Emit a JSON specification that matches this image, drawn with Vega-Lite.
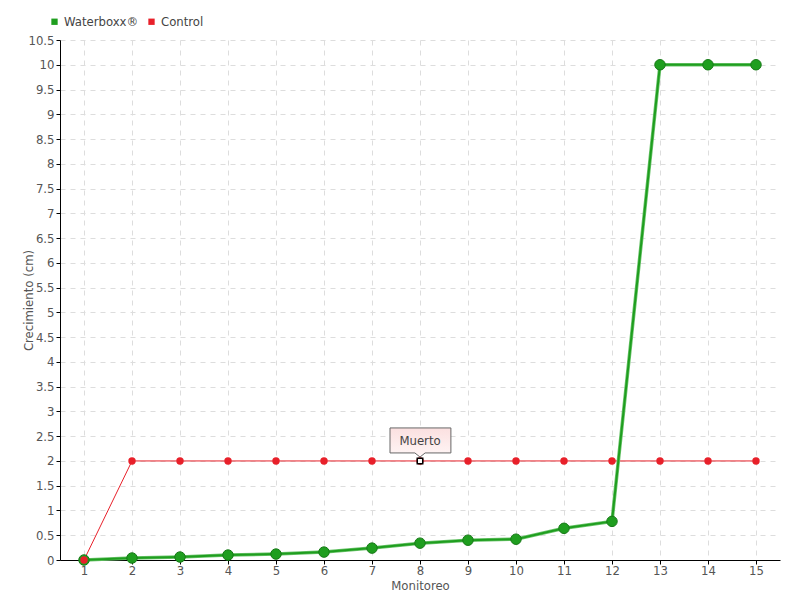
{
  "$schema": "https://vega.github.io/schema/vega-lite/v6.json",
  "width": 720,
  "height": 520,
  "autosize": {"type": "none"},
  "padding": {"left": 60, "top": 40, "right": 20, "bottom": 40},
  "background": "white",
  "config": {
    "font": "DejaVu Sans Condensed",
    "view": {"stroke": null},
    "axis": {
      "labelFont": "DejaVu Sans Condensed",
      "titleFont": "DejaVu Sans Condensed",
      "labelFontSize": 13,
      "titleFontSize": 13,
      "labelColor": "#555555",
      "titleColor": "#555555",
      "titleFontWeight": "normal",
      "domainColor": "#000000",
      "domainWidth": 1,
      "tickColor": "#000000",
      "tickSize": 4,
      "gridColor": "#dddddd",
      "gridDash": [5, 5],
      "gridWidth": 1
    },
    "legend": {
      "orient": "none",
      "legendX": -12,
      "legendY": -25,
      "direction": "horizontal",
      "symbolType": "square",
      "symbolSize": 40,
      "symbolStrokeWidth": 0,
      "labelFont": "DejaVu Sans Condensed",
      "labelFontSize": 13,
      "labelColor": "#444444",
      "columnPadding": 6,
      "labelOffset": 3,
      "title": null
    }
  },
  "data": {
    "values": [
      {"monitoreo": 1, "serie": "Waterboxx®", "crecimiento": 0},
      {"monitoreo": 2, "serie": "Waterboxx®", "crecimiento": 0.04},
      {"monitoreo": 3, "serie": "Waterboxx®", "crecimiento": 0.06},
      {"monitoreo": 4, "serie": "Waterboxx®", "crecimiento": 0.1},
      {"monitoreo": 5, "serie": "Waterboxx®", "crecimiento": 0.12},
      {"monitoreo": 6, "serie": "Waterboxx®", "crecimiento": 0.16},
      {"monitoreo": 7, "serie": "Waterboxx®", "crecimiento": 0.24},
      {"monitoreo": 8, "serie": "Waterboxx®", "crecimiento": 0.34},
      {"monitoreo": 9, "serie": "Waterboxx®", "crecimiento": 0.4},
      {"monitoreo": 10, "serie": "Waterboxx®", "crecimiento": 0.42},
      {"monitoreo": 11, "serie": "Waterboxx®", "crecimiento": 0.64},
      {"monitoreo": 12, "serie": "Waterboxx®", "crecimiento": 0.78},
      {"monitoreo": 13, "serie": "Waterboxx®", "crecimiento": 10},
      {"monitoreo": 14, "serie": "Waterboxx®", "crecimiento": 10},
      {"monitoreo": 15, "serie": "Waterboxx®", "crecimiento": 10},
      {"monitoreo": 1, "serie": "Control", "crecimiento": 0},
      {"monitoreo": 2, "serie": "Control", "crecimiento": 2},
      {"monitoreo": 3, "serie": "Control", "crecimiento": 2},
      {"monitoreo": 4, "serie": "Control", "crecimiento": 2},
      {"monitoreo": 5, "serie": "Control", "crecimiento": 2},
      {"monitoreo": 6, "serie": "Control", "crecimiento": 2},
      {"monitoreo": 7, "serie": "Control", "crecimiento": 2},
      {"monitoreo": 8, "serie": "Control", "crecimiento": 2, "nota": "Muerto"},
      {"monitoreo": 9, "serie": "Control", "crecimiento": 2},
      {"monitoreo": 10, "serie": "Control", "crecimiento": 2},
      {"monitoreo": 11, "serie": "Control", "crecimiento": 2},
      {"monitoreo": 12, "serie": "Control", "crecimiento": 2},
      {"monitoreo": 13, "serie": "Control", "crecimiento": 2},
      {"monitoreo": 14, "serie": "Control", "crecimiento": 2},
      {"monitoreo": 15, "serie": "Control", "crecimiento": 2}
    ]
  },
  "encoding": {
    "x": {
      "field": "monitoreo",
      "type": "ordinal",
      "scale": {"type": "point", "padding": 0.5},
      "axis": {"title": "Monitoreo", "labelAngle": 0, "labelPadding": 0, "titlePadding": 2, "grid": true}
    },
    "y": {
      "field": "crecimiento",
      "type": "quantitative",
      "scale": {"domain": [0, 10.5], "nice": false},
      "axis": {
        "title": "Crecimiento (cm)",
        "values": [0, 0.5, 1, 1.5, 2, 2.5, 3, 3.5, 4, 4.5, 5, 5.5, 6, 6.5, 7, 7.5, 8, 8.5, 9, 9.5, 10, 10.5],
        "format": "~g",
        "labelPadding": 2,
        "titlePadding": -8,
        "grid": true
      }
    }
  },
  "layer": [
    {
      "transform": [{"filter": "datum.serie === 'Control'"}],
      "mark": {"type": "line", "strokeWidth": 1},
      "encoding": {
        "color": {
          "field": "serie",
          "type": "nominal",
          "scale": {"domain": ["Waterboxx®", "Control"], "range": ["#1f9e1f", "#e8202a"]}
        }
      }
    },
    {
      "transform": [{"filter": "datum.serie === 'Waterboxx®'"}],
      "mark": {"type": "line", "strokeWidth": 3.5, "color": "#6cc46c"},
      "encoding": {}
    },
    {
      "transform": [{"filter": "datum.serie === 'Waterboxx®'"}],
      "mark": {"type": "line", "strokeWidth": 2},
      "encoding": {
        "color": {"field": "serie", "type": "nominal"}
      }
    },
    {
      "transform": [{"filter": "datum.serie === 'Waterboxx®'"}],
      "mark": {"type": "point", "filled": true, "size": 110, "opacity": 1, "stroke": "#177a17", "strokeWidth": 1},
      "encoding": {
        "color": {"field": "serie", "type": "nominal"}
      }
    },
    {
      "transform": [{"filter": "datum.serie === 'Control'"}],
      "mark": {"type": "point", "filled": true, "size": 55, "opacity": 1},
      "encoding": {
        "color": {"field": "serie", "type": "nominal"}
      }
    },
    {
      "transform": [{"filter": "datum.nota === 'Muerto'"}],
      "mark": {"type": "point", "shape": "square", "filled": true, "size": 30, "fill": "#ffffff", "stroke": "#000000", "strokeWidth": 1.5, "opacity": 1},
      "encoding": {}
    },
    {
      "transform": [{"filter": "datum.nota === 'Muerto'"}],
      "mark": {
        "type": "point",
        "shape": "M-1,-1.1 L1.03,-1.1 L1.03,-0.267 L0.17,-0.267 L0,-0.13 L-0.17,-0.267 L-1,-0.267 Z",
        "size": 3600,
        "filled": true,
        "fill": {
          "gradient": "linear",
          "x1": 0, "y1": 0, "x2": 0, "y2": 1,
          "stops": [{"offset": 0, "color": "#fbe0e0"}, {"offset": 1, "color": "#fff6f6"}]
        },
        "stroke": "#666666",
        "strokeWidth": 1,
        "opacity": 1
      },
      "encoding": {}
    },
    {
      "transform": [{"filter": "datum.nota === 'Muerto'"}],
      "mark": {"type": "text", "dy": -20, "fontSize": 13, "color": "#444444", "font": "DejaVu Sans Condensed"},
      "encoding": {"text": {"field": "nota"}}
    }
  ]
}
